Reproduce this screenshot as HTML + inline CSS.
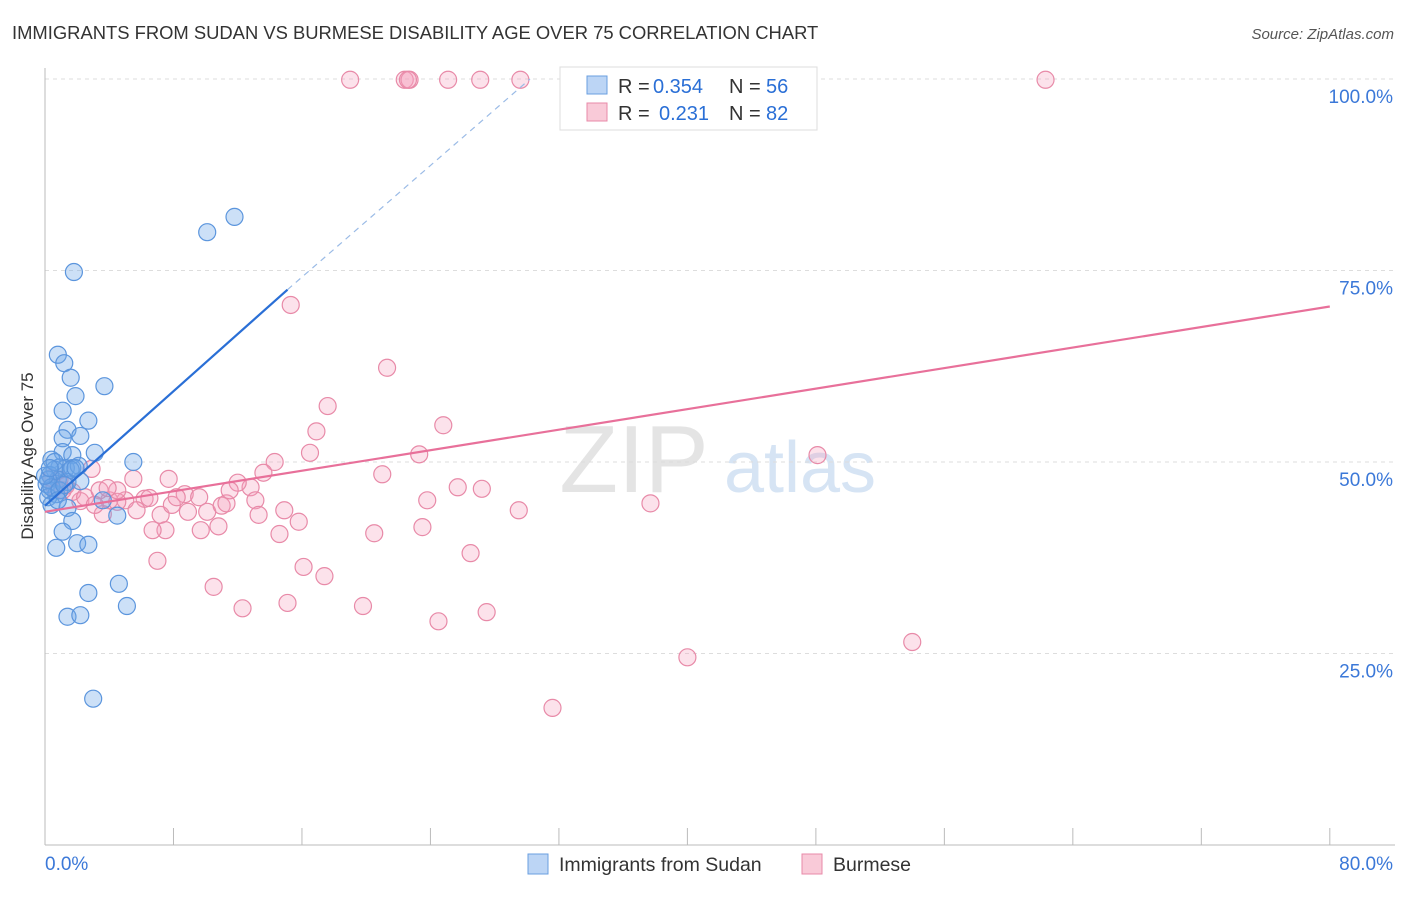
<!DOCTYPE html>
<html><head><meta charset="utf-8"><style>
body{margin:0;background:#fff;font-family:"Liberation Sans",sans-serif;}
svg text{font-family:"Liberation Sans",sans-serif;}
</style></head><body>
<svg id="chart" width="1406" height="892" xmlns="http://www.w3.org/2000/svg">
<text x="12" y="39" font-size="18.4" fill="#333">IMMIGRANTS FROM SUDAN VS BURMESE DISABILITY AGE OVER 75 CORRELATION CHART</text>
<text x="1394" y="39" font-size="15" fill="#555" font-style="italic" text-anchor="end">Source: ZipAtlas.com</text>
<text x="634" y="492" font-size="96" fill="#e4e4e4" font-family="Liberation Serif" text-anchor="middle">ZIP</text>
<text x="800" y="492" font-size="72" fill="#d6e4f4" text-anchor="middle">atlas</text>
<text x="33" y="456" font-size="17" fill="#333" text-anchor="middle" transform="rotate(-90 33 456)">Disability Age Over 75</text>
<g id="grid"></g><g id="axes"></g><g id="pts"></g><g id="lines"></g>
<g>
<rect x="560" y="67" width="257" height="63" fill="#fff" stroke="#ddd"/>
<rect x="587" y="76" width="20" height="18" fill="#bcd5f5" stroke="#6a9fe0"/>
<rect x="587" y="103" width="20" height="18" fill="#f9cad8" stroke="#e88aa8"/>
<text x="618" y="93" font-size="20" fill="#333">R =</text>
<text x="653" y="93" font-size="20" fill="#2a6fd6">0.354</text>
<text x="729" y="93" font-size="20" fill="#333">N =</text>
<text x="766" y="93" font-size="20" fill="#2a6fd6">56</text>
<text x="618" y="120" font-size="20" fill="#333">R =</text>
<text x="659" y="120" font-size="20" fill="#2a6fd6">0.231</text>
<text x="729" y="120" font-size="20" fill="#333">N =</text>
<text x="766" y="120" font-size="20" fill="#2a6fd6">82</text>
</g>
<g>
<rect x="528" y="854" width="20" height="20" fill="#bcd5f5" stroke="#6a9fe0"/>
<text x="559" y="871" font-size="19.5" fill="#333">Immigrants from Sudan</text>
<rect x="802" y="854" width="20" height="20" fill="#f9cad8" stroke="#e88aa8"/>
<text x="833" y="871" font-size="19.5" fill="#333">Burmese</text>
</g>
</svg>
<script>
const blueX=[1.8,10.1,11.8,0.8,1.2,1.6,3.7,1.9,1.1,2.7,1.4,2.2,1.1,1.1,1.7,3.1,5.5,0.4,0.9,1.3,1.7,2.1,0.6,0.3,0.8,0.1,1.4,2.2,0.3,0.7,0.2,3.6,1.4,0.4,1.7,4.5,1.1,2.0,2.7,0.7,4.6,2.7,5.1,1.4,2.2,3.0,0.2,0.4,0.9,0.6,1.6,1.2,0.0,0.3,0.8,1.9];
const blueY=[74.8,80.0,82.0,64.0,62.9,61.0,59.9,58.6,56.7,55.4,54.2,53.4,53.1,51.3,50.9,51.2,50.0,50.3,49.3,49.2,49.2,49.5,49.0,48.3,47.7,47.1,47.4,47.5,46.3,45.8,45.4,45.0,44.0,44.4,42.3,43.0,40.9,39.4,39.2,38.8,34.1,32.9,31.2,29.8,30.0,19.1,47.7,46.7,46.3,50.0,49.0,47.0,48.2,49.2,45.0,49.2];
const pinkX=[19.0,22.4,22.7,25.1,27.1,29.6,62.3,22.6,15.3,21.3,17.6,24.8,16.9,16.5,23.3,48.1,14.3,13.6,21.0,5.5,7.7,2.9,12.8,12.0,8.7,25.7,27.2,23.8,37.7,29.5,4.0,5.0,6.2,7.2,7.9,8.9,9.6,10.1,11.0,11.3,13.1,13.3,14.9,15.8,14.6,10.8,9.7,7.5,6.7,20.5,23.5,5.7,4.5,3.6,2.2,1.7,1.1,0.6,1.3,2.5,3.4,4.5,7.0,10.5,12.3,15.1,16.1,17.4,19.8,24.5,26.5,27.5,40.0,54.0,31.6,3.9,3.1,6.5,8.2,11.5,0.4,0.9];
const pinkY=[99.9,99.9,99.9,99.9,99.9,99.9,99.9,99.9,70.5,62.3,57.3,54.8,54.0,51.2,51.0,50.9,50.0,48.6,48.4,47.8,47.8,49.1,46.7,47.3,45.8,46.7,46.5,45.0,44.6,43.7,45.0,45.0,45.2,43.1,44.4,43.5,45.4,43.5,44.3,44.6,45.0,43.1,43.7,42.2,40.6,41.6,41.1,41.1,41.1,40.7,41.5,43.7,44.8,43.2,44.9,46.1,46.3,46.7,46.9,45.4,46.3,46.3,37.1,33.7,30.9,31.6,36.3,35.1,31.2,29.2,38.1,30.4,24.5,26.5,17.9,46.6,44.4,45.3,45.4,46.3,47.9,47.7];
const blueTrend=[[0,44.3],[15.1,72.5],[30.2,100]];
const pinkTrend=[[0,43.5],[80,70.3]];
const yTicks=[25,50,75,100];
const xTickVals=[0,8,16,24,32,40,48,56,64,72,80];
const NS='http://www.w3.org/2000/svg';
const sx=v=>45+v*16.06, sy=v=>845-v*7.66;
function mk(tag,attrs,parent){const e=document.createElementNS(NS,tag);for(const k in attrs)e.setAttribute(k,attrs[k]);parent.appendChild(e);return e;}
const grid=document.getElementById('grid'),axes=document.getElementById('axes'),pts=document.getElementById('pts'),lines=document.getElementById('lines');
yTicks.forEach(t=>{
 const l=mk('line',{x1:45,x2:1395,y1:sy(t),y2:sy(t),stroke:'#ddd','stroke-dasharray':'4,4'},grid);
 
 
 const tx=mk('text',{x:1393,y:sy(t)+24,'font-size':19,fill:'#3b78d8','text-anchor':'end'},axes);
 tx.textContent=t.toFixed(1)+'%';
 
 
});
const ax=mk('line',{x1:45,x2:1395,y1:845,y2:845,stroke:'#bbb'},axes);


const ay=mk('line',{x1:45,x2:45,y1:68,y2:845,stroke:'#bbb'},axes);


xTickVals.forEach(t=>{
 const l=mk('line',{x1:sx(t),x2:sx(t),y1:828,y2:845,stroke:'#bbb'},axes);
 
 
});
[[0,'start','0.0%'],[80,'end','80.0%']].forEach(([v,a,s])=>{
 const tx=mk('text',{x:v===0?45:1393,y:870,'font-size':19,fill:'#3b78d8','text-anchor':a},axes);
 tx.textContent=s;
 
 
});
function dots(X,Y,fill,stroke,name){X.forEach((x,i)=>{
 const c=mk('circle',{cx:sx(x),cy:sy(Y[i]),r:8.5,fill:fill,stroke:stroke,'stroke-width':1.2},pts);
 
 
});}
dots(pinkX,pinkY,'rgba(244,160,188,0.3)','#e88aa8','burmese-point');
dots(blueX,blueY,'rgba(110,165,232,0.35)','#5b95dd','sudan-point');
const b1=mk('line',{x1:sx(blueTrend[0][0]),y1:sy(blueTrend[0][1]),x2:sx(blueTrend[1][0]),y2:sy(blueTrend[1][1]),stroke:'#2a6fd6','stroke-width':2.2},lines);


const b2=mk('line',{x1:sx(blueTrend[1][0]),y1:sy(blueTrend[1][1]),x2:sx(blueTrend[2][0]),y2:sy(blueTrend[2][1]),stroke:'#9bbbe6','stroke-width':1.2,'stroke-dasharray':'6,5'},lines);


const p1=mk('line',{x1:sx(pinkTrend[0][0]),y1:sy(pinkTrend[0][1]),x2:sx(pinkTrend[1][0]),y2:sy(pinkTrend[1][1]),stroke:'#e8709a','stroke-width':2.2},lines);


</script>
</body></html>
